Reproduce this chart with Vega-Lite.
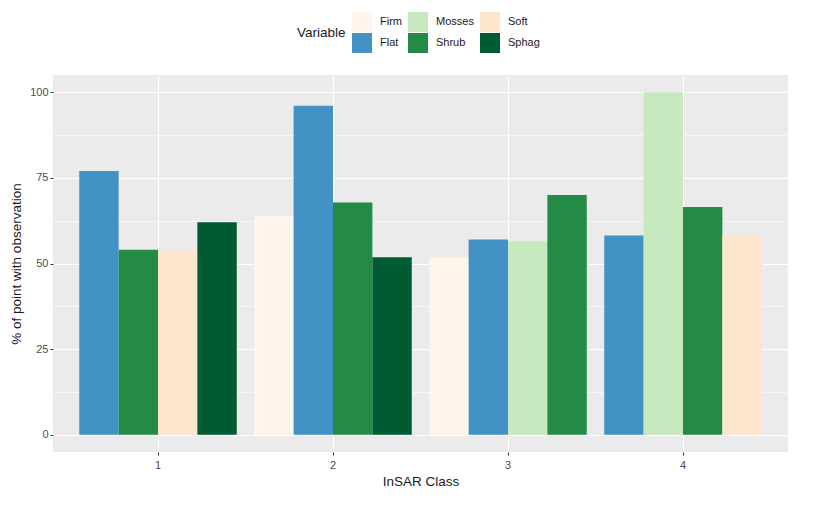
{
  "$schema": "https://vega.github.io/schema/vega-lite/v6.json",
  "width": 735,
  "height": 377,
  "autosize": "none",
  "padding": {"left": 53, "top": 75, "right": 42, "bottom": 62},
  "background": "white",
  "config": {
    "font": "Liberation Sans",
    "view": {"fill": "#EBEBEB", "stroke": null},
    "axis": {
      "domain": false,
      "gridColor": "white",
      "tickColor": "#333333",
      "tickSize": 3,
      "labelColor": "#4D4D4D",
      "labelFontSize": 11,
      "labelFont": "Liberation Sans",
      "titleFont": "Liberation Sans",
      "titleFontSize": 13.5,
      "titleFontWeight": "normal",
      "titleColor": "#1A1A1A"
    }
  },
  "data": {
    "values": [
      {"Class": "1", "Variable": "Flat", "Percent": 77},
      {"Class": "1", "Variable": "Shrub", "Percent": 54},
      {"Class": "1", "Variable": "Soft", "Percent": 53.7},
      {"Class": "1", "Variable": "Sphag", "Percent": 62},
      {"Class": "2", "Variable": "Firm", "Percent": 63.8},
      {"Class": "2", "Variable": "Flat", "Percent": 96},
      {"Class": "2", "Variable": "Shrub", "Percent": 67.8},
      {"Class": "2", "Variable": "Sphag", "Percent": 51.8},
      {"Class": "3", "Variable": "Firm", "Percent": 51.8},
      {"Class": "3", "Variable": "Flat", "Percent": 57},
      {"Class": "3", "Variable": "Mosses", "Percent": 56.5},
      {"Class": "3", "Variable": "Shrub", "Percent": 70},
      {"Class": "4", "Variable": "Flat", "Percent": 58.2},
      {"Class": "4", "Variable": "Mosses", "Percent": 100},
      {"Class": "4", "Variable": "Shrub", "Percent": 66.5},
      {"Class": "4", "Variable": "Soft", "Percent": 58.2}
    ]
  },
  "transform": [
    {
      "window": [{"op": "row_number", "as": "slot"}],
      "groupby": ["Class"],
      "sort": [{"field": "Variable", "order": "ascending"}]
    }
  ],
  "mark": {"type": "bar", "opacity": 1},
  "encoding": {
    "x": {
      "field": "Class",
      "type": "nominal",
      "scale": {"paddingInner": 0.1, "paddingOuter": 0.15},
      "axis": {
        "title": "InSAR Class",
        "labelAngle": 0,
        "grid": true,
        "gridWidth": 1.1,
        "bandPosition": 0.5,
        "labelPadding": 4,
        "titlePadding": 4
      }
    },
    "xOffset": {
      "field": "slot",
      "type": "ordinal",
      "scale": {"paddingInner": 0, "paddingOuter": 0}
    },
    "y": {
      "field": "Percent",
      "type": "quantitative",
      "scale": {"domain": [-5, 105], "nice": false, "zero": false},
      "axis": {
        "title": "% of point with observation",
        "values": [0, 12.5, 25, 37.5, 50, 62.5, 75, 87.5, 100],
        "labelExpr": "datum.value % 25 === 0 ? datum.label : ''",
        "gridWidth": {"condition": {"test": "datum.value % 25 === 0", "value": 1.1}, "value": 0.55},
        "tickSize": {"condition": {"test": "datum.value % 25 === 0", "value": 3}, "value": 0},
        "labelPadding": 2,
        "titlePadding": 6
      }
    },
    "color": {
      "field": "Variable",
      "type": "nominal",
      "scale": {
        "domain": ["Firm", "Mosses", "Soft", "Flat", "Shrub", "Sphag"],
        "range": ["#FFF5EB", "#C7E9C0", "#FEE6CE", "#4292C6", "#238B45", "#005A32"]
      },
      "legend": {
        "title": "Variable",
        "orient": "none",
        "legendX": 244,
        "legendY": -63,
        "direction": "horizontal",
        "columns": 3,
        "titleOrient": "left",
        "titleAnchor": "middle",
        "titleBaseline": "middle",
        "titleFontSize": 13.5,
        "titleFontWeight": "normal",
        "titleColor": "#1A1A1A",
        "titlePadding": 6,
        "symbolType": "square",
        "symbolSize": 400,
        "symbolStrokeWidth": 0,
        "symbolOpacity": 1,
        "labelFontSize": 11,
        "labelColor": "#1A1A1A",
        "labelOffset": 8,
        "columnPadding": 6,
        "rowPadding": 1
      }
    }
  }
}
